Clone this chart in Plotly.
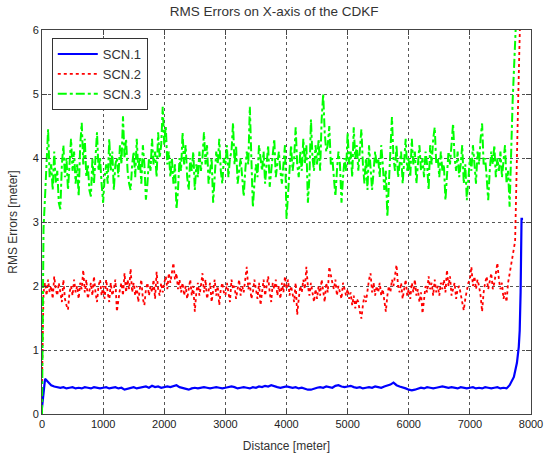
import numpy as np
import plotly.graph_objects as go

# ---------------- data ----------------
# SCN.3 (green) body, 25 m spacing from 0 to 7650 m
scn3_body = [
    0.0, 2.9, 3.4, 4.0, 4.45, 3.7, 3.9, 3.5, 4.1, 3.6, 3.8, 3.3, 3.2, 3.9, 4.2, 3.7, 4.0, 3.5, 3.9, 4.3,
    3.8, 4.1, 3.6, 3.9, 3.4, 4.2, 4.55, 3.9, 4.3, 3.7, 3.9, 3.5, 3.4, 4.0, 3.6, 4.1, 4.4, 3.8, 4.0, 3.6,
    3.3, 3.7, 3.9, 3.6, 4.3, 3.8, 4.1, 3.5, 3.9, 4.0, 3.7, 4.2, 3.9, 4.65, 4.0, 4.3, 3.8, 3.6, 3.5, 3.9,
    4.1, 3.7, 4.3, 3.8, 4.0, 3.6, 4.2, 3.9, 3.35, 3.6, 4.0, 3.8, 4.3, 3.9, 4.1, 3.7, 4.4, 4.0, 4.2, 4.8,
    4.2, 4.5, 3.9, 4.1, 3.7, 4.0, 3.6, 3.9, 3.2, 3.5, 4.0, 3.8, 4.4, 3.9, 4.2, 3.7, 3.5, 4.0, 3.8, 4.1,
    3.5, 3.9, 3.7, 4.1, 3.8, 4.0, 4.4, 3.9, 4.2, 3.6, 3.8, 4.0, 3.3, 3.7, 4.1, 3.9, 4.3, 3.8, 3.6, 4.0,
    3.9, 4.2, 3.7, 4.0, 4.1, 4.55, 3.9, 4.2, 3.6, 3.8, 4.0, 3.7, 3.4, 3.8, 4.1, 3.9, 4.8, 4.0, 3.23, 3.6,
    3.9, 3.7, 4.2, 4.0, 3.8, 4.1, 3.6, 3.9, 4.2, 3.55, 3.8, 4.0, 4.3, 3.7, 3.9, 4.1, 3.8, 3.6, 3.9, 4.2,
    3.05, 3.5, 3.9, 4.2, 3.8, 4.0, 4.48, 3.9, 3.7, 4.1, 3.8, 4.3, 3.9, 4.2, 3.3, 3.7, 4.6, 4.0, 3.8, 4.2,
    3.9, 4.3, 3.8, 4.6, 5.0, 4.4, 4.1, 4.2, 4.5, 3.9, 4.0, 3.7, 3.4, 3.8, 4.1, 3.9, 3.3, 3.7, 4.0, 3.8,
    4.4, 3.9, 4.1, 3.7, 4.48, 4.0, 4.2, 3.8, 4.1, 4.45, 3.9, 3.6, 4.0, 3.5, 4.2, 3.9, 3.5, 3.8, 4.1, 3.9,
    4.0, 3.7, 4.2, 3.9, 3.5, 3.8, 3.08, 3.6, 4.1, 4.64, 4.0, 3.8, 4.2, 3.7, 3.9, 4.1, 3.6, 3.9, 4.3, 3.8,
    4.0, 3.7, 4.3, 3.9, 4.1, 3.6, 3.9, 4.2, 3.8, 4.0, 3.7, 4.1, 3.9, 3.5, 4.2, 3.9, 4.3, 4.48, 3.9, 4.0,
    3.7, 4.1, 3.8, 3.9, 3.34, 3.8, 4.1, 3.9, 4.2, 4.54, 4.0, 3.8, 4.1, 3.7, 3.9, 4.2, 3.6, 3.9, 3.34, 3.7,
    4.0, 3.8, 4.2, 3.9, 3.6, 4.1, 3.9, 4.3, 4.54, 3.9, 4.0, 3.7, 3.34, 3.8, 4.1, 3.9, 4.2, 3.7, 4.0, 3.8,
    4.1, 3.7, 3.9, 4.2, 3.6, 3.8, 3.24,
]
scn3_tail_dist = [7700, 7740, 7770]
scn3_tail = [4.9, 5.8, 6.5]

# SCN.2 (red) body, 25 m spacing from 0 to 7650 m
scn2_body = [
    0.5, 1.9, 2.05, 1.85, 2.1, 1.9, 2.0, 1.8, 2.15, 1.95, 1.85, 2.05, 1.9, 1.75, 2.1, 1.8, 1.7, 1.63, 1.9, 2.0,
    1.85, 2.1, 1.9, 2.0, 1.8, 2.05, 1.95, 2.25, 1.9, 2.1, 1.8, 1.95, 2.05, 1.85, 2.15, 1.9, 1.75, 2.0, 2.1, 1.85,
    2.0, 1.8, 2.1, 1.9, 1.75, 2.05, 1.85, 1.95, 2.1, 1.6, 1.8, 1.95, 2.05, 1.85, 2.2, 1.9, 2.1, 1.95, 2.27, 1.9,
    2.05, 1.85, 2.0, 1.75, 1.95, 2.1, 1.8, 1.7, 1.95, 2.05, 1.85, 2.0, 1.9, 2.1, 1.8, 2.22, 1.95, 1.85, 2.05, 1.9,
    2.05, 2.15, 1.95, 2.2, 2.05, 2.25, 2.36, 2.1, 2.2, 1.95, 2.1, 1.9, 2.05, 1.85, 2.0, 1.8, 1.95, 2.1, 1.85, 2.0,
    1.6, 1.9, 2.05, 1.85, 2.0, 2.2, 1.9, 2.1, 1.8, 1.95, 2.05, 1.75, 1.9, 2.1, 1.85, 2.0, 1.7, 1.95, 2.05, 1.9,
    1.85, 2.05, 1.9, 1.75, 2.1, 1.95, 2.0, 1.8, 1.95, 2.1, 1.85, 2.0, 1.9, 2.15, 2.3, 1.95, 2.05, 1.8, 1.9, 2.1,
    1.95, 1.8, 2.05, 1.7, 1.9, 2.1, 1.85, 2.0, 2.15, 1.9, 1.75, 2.05, 1.95, 2.1, 1.85, 2.0, 1.8, 2.05, 1.9, 2.15,
    1.95, 2.1, 1.85, 2.0, 1.9, 1.75, 2.05, 1.55, 1.8, 2.0, 1.9, 2.1, 1.95, 2.3, 2.0, 1.85, 2.05, 1.9, 1.75, 1.95,
    1.8, 2.0, 1.85, 2.1, 1.95, 1.75, 2.05, 1.9, 2.3, 2.15, 2.05, 1.95, 2.1, 1.85, 2.0, 1.9, 1.8, 2.05, 1.95, 1.85,
    1.95, 1.8, 1.9, 1.7, 1.85, 1.65, 1.8, 1.75, 1.6, 1.49, 1.7, 1.85, 1.75, 1.95, 2.1, 2.2, 1.9, 2.05, 1.85, 2.0,
    1.9, 2.05, 1.85, 1.95, 1.75, 1.6, 1.85, 2.0, 1.9, 2.1, 2.0, 2.15, 2.33, 2.0, 1.9, 2.05, 1.8, 1.95, 2.1, 1.85,
    1.95, 1.8, 2.05, 1.9, 2.1, 1.85, 1.95, 1.75, 1.9, 1.57, 1.8, 2.0, 1.9, 2.15, 1.95, 2.05, 1.85, 2.1, 1.9, 2.0,
    1.85, 2.05, 1.95, 2.1, 1.9, 2.25, 2.0, 2.15, 1.85, 1.95, 2.05, 1.8, 1.95, 2.0, 1.85, 1.75, 1.62, 1.8, 1.95, 2.05,
    2.1, 2.3, 2.0, 2.15, 1.95, 2.1, 2.0, 1.85, 1.6, 1.9, 2.05, 2.15, 1.95, 2.1, 2.2, 1.95, 2.05, 2.2, 2.36, 2.1,
    1.95, 2.05, 1.8, 1.9, 1.75, 2.05, 2.2,
]
scn2_tail_dist = [7700, 7740, 7790, 7815, 7830]
scn2_tail = [2.5, 2.7, 4.9, 6.0, 6.5]

# SCN.1 (blue) body, 50 m spacing from 0 to 7650 m
scn1_body = [
    0.1, 0.55, 0.5, 0.45, 0.43, 0.42, 0.41, 0.42, 0.4, 0.41, 0.42, 0.4, 0.41, 0.4, 0.42, 0.41, 0.4, 0.42, 0.41, 0.4,
    0.41, 0.42, 0.4, 0.41, 0.42, 0.4, 0.41, 0.38, 0.39, 0.41, 0.42, 0.4, 0.41, 0.42, 0.43, 0.41, 0.44, 0.42, 0.43, 0.41,
    0.42, 0.43, 0.42, 0.44, 0.45, 0.42, 0.41, 0.39, 0.38, 0.4, 0.41, 0.4, 0.41, 0.42, 0.41, 0.4, 0.41, 0.42, 0.41, 0.4,
    0.41, 0.42, 0.43, 0.42, 0.4, 0.41, 0.42, 0.41, 0.4, 0.42, 0.41, 0.43, 0.42, 0.44, 0.43, 0.45, 0.43, 0.42, 0.41, 0.42,
    0.43, 0.42, 0.41, 0.42, 0.4, 0.41, 0.39, 0.38, 0.38, 0.4, 0.41, 0.42, 0.41, 0.43, 0.42, 0.41, 0.44, 0.45, 0.43, 0.42,
    0.43, 0.44, 0.42, 0.41, 0.42, 0.4, 0.41, 0.42, 0.41, 0.43, 0.42, 0.41, 0.43, 0.44, 0.46, 0.49, 0.45, 0.43, 0.42, 0.4,
    0.38, 0.37, 0.38, 0.4, 0.41, 0.4, 0.42, 0.41, 0.4, 0.41, 0.42, 0.43, 0.42, 0.41, 0.42, 0.41, 0.4, 0.42, 0.41, 0.4,
    0.41, 0.42, 0.4, 0.41, 0.4, 0.42, 0.41, 0.4, 0.41, 0.42, 0.4, 0.41, 0.4, 0.45,
]
scn1_tail_dist = [7720, 7770, 7800, 7815, 7830, 7845, 7870]
scn1_tail = [0.58, 0.8, 1.05, 1.3, 1.9, 3.05, 3.05]

body_end = 7650
x_ticks = [0, 1000, 2000, 3000, 4000, 5000, 6000, 7000, 8000]
y_ticks = [0, 1, 2, 3, 4, 5, 6]


def series(body, tail_d, tail_v):
    x = list(np.linspace(0, body_end, len(body))) + list(tail_d)
    y = list(body) + list(tail_v)
    return x, y


x1, y1 = series(scn1_body, scn1_tail_dist, scn1_tail)
x2, y2 = series(scn2_body, scn2_tail_dist, scn2_tail)
x3, y3 = series(scn3_body, scn3_tail_dist, scn3_tail)

FONT = "Liberation Sans, Arial, sans-serif"

fig = go.Figure()
fig.add_trace(go.Scatter(x=x1, y=y1, mode="lines", name="SCN.1",
                         line=dict(color="#0000ff", width=2.2)))
fig.add_trace(go.Scatter(x=x2, y=y2, mode="lines", name="SCN.2",
                         line=dict(color="#ff0000", width=1.8, dash="dot")))
fig.add_trace(go.Scatter(x=x3, y=y3, mode="lines", name="SCN.3",
                         line=dict(color="#00ff00", width=2, dash="dashdot")))

axis_common = dict(
    showline=True, linecolor="#444", linewidth=1, mirror="ticks",
    ticks="inside", ticklen=5, tickcolor="#444",
    showgrid=True, gridcolor="#555", gridwidth=1, griddash="3px,3px",
    zeroline=False, tickfont=dict(family=FONT, size=11, color="#222"),
    automargin=False,
)

fig.update_xaxes(range=[0, 8000], tickvals=x_ticks,
                 title=dict(text="Distance [meter]", font=dict(family=FONT, size=12, color="#333"),
                            standoff=12),
                 **axis_common)
fig.update_yaxes(range=[0, 6], tickvals=y_ticks,
                 title=dict(text="RMS Errors [meter]", font=dict(family=FONT, size=12, color="#333"),
                            standoff=12),
                 **axis_common)

fig.update_layout(
    width=545, height=468,
    margin=dict(l=42, r=14, t=30, b=54),
    paper_bgcolor="white", plot_bgcolor="white",
    title=dict(text="RMS Errors on X-axis of the CDKF", x=0.503, xanchor="center",
               y=0.975, yanchor="middle", yref="container",
               font=dict(family=FONT, size=13.5, color="#333")),
    legend=dict(x=0.02, y=0.979, xanchor="left", yanchor="top",
                bgcolor="white", bordercolor="#333", borderwidth=1,
                font=dict(family=FONT, size=13, color="#333"),
                tracegroupgap=0, itemwidth=40),
    showlegend=True,
)

fig.write_html("out.html")
